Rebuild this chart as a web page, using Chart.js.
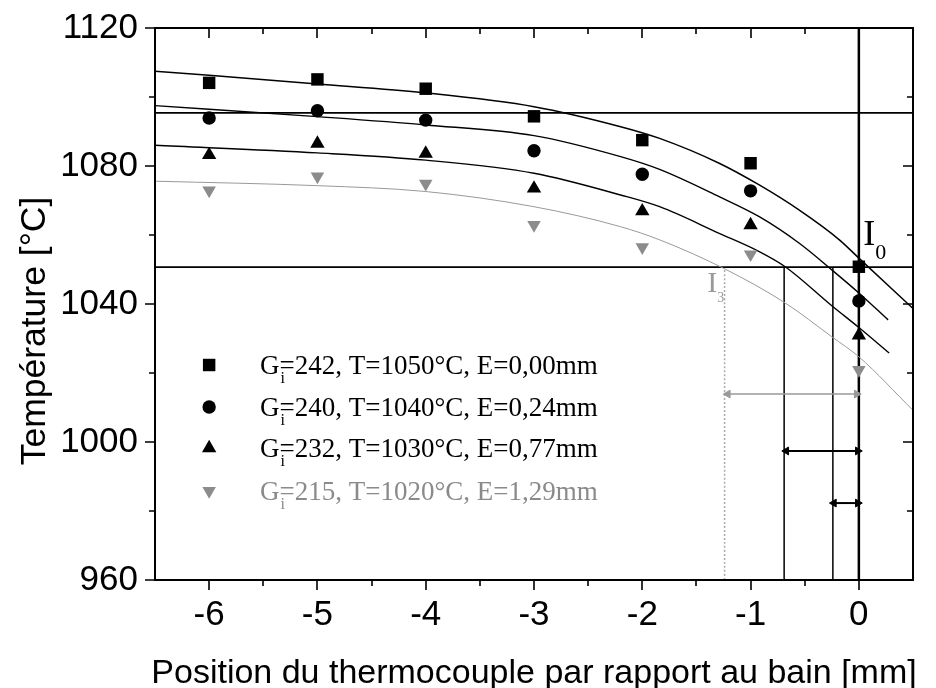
<!DOCTYPE html>
<html><head><meta charset="utf-8">
<script src="https://cdn.jsdelivr.net/npm/chart.js@4/dist/chart.umd.min.js"></script>
<style>html,body{margin:0;padding:0;background:#fff}#wrap{width:936px;height:688px}</style>
</head><body><div id="wrap"><canvas id="c" width="936" height="688"></canvas></div>
<script>
// ---------- data ----------
const positions = [-6, -5, -4, -3, -2, -1, 0];
const tempSquare   = [1104.1, 1105.1, 1102.4, 1094.4, 1087.5, 1080.8, 1050.8];
const tempCircle   = [1093.9, 1096.0, 1093.3, 1084.4, 1077.6, 1072.8, 1040.9];
const tempTriangle = [1083.2, 1086.5, 1083.6, 1073.5, 1066.9, 1062.9, 1030.9];
const tempInvTri   = [1072.9, 1077.0, 1074.9, 1062.9, 1056.5, 1054.4, 1020.9];

const fit1X = [-6.5, -5, -4, -3, -2.2, -1.84, -1.29, -0.92, -0.55, -0.18, 0, 0.5];
const fit1Y = [1107.5, 1103.8, 1101.2, 1097.2, 1091.4, 1088, 1080.8, 1074.5, 1067.2, 1058.6, 1053.3, 1038.7];
const fit2X = [-6.5, -5, -4, -3, -2.2, -1.84, -1.29, -0.92, -0.55, -0.25, 0, 0.27];
const fit2Y = [1097.5, 1094.3, 1091.9, 1088.8, 1082.7, 1079, 1071.1, 1065.3, 1057.6, 1049.9, 1043.2, 1035.4];
const fit3X = [-6.5, -5, -4, -3, -2.2, -1.84, -1.29, -0.92, -0.68, -0.25, 0, 0.28];
const fit3Y = [1086, 1083.8, 1081.7, 1077.9, 1071.6, 1068.2, 1060.5, 1055.2, 1050.8, 1039.5, 1033.2, 1025.8];
const fit4X = [-6.5, -5, -4, -3, -2.2, -1.84, -1.24, -0.68, -0.25, 0, 0.5];
const fit4Y = [1075.6, 1074.3, 1072.6, 1068.2, 1062.4, 1058.6, 1050.2, 1040.3, 1030.5, 1024.7, 1009.2];

const hLineHigh = 1095.4;
const hLineLow = 1050.7;
const vLineBain = 0;
const vLinesBlack = [-0.69, -0.24];
const vLineGray = -1.24;
const arrowGray = {y: 1013.9, from: -1.21, to: -0.02};
const arrowBlack1 = {y: 997.4, from: -0.67, to: -0.01};
const arrowBlack2 = {y: 982.3, from: -0.23, to: -0.01};

const xMin = -6.5, xMax = 0.5, yMin = 960, yMax = 1120;
const xTickValues = [-6, -5, -4, -3, -2, -1, 0];
const xMinorValues = [-5.5, -4.5, -3.5, -2.5, -1.5, -0.5];
const yTickValues = [960, 1000, 1040, 1080, 1120];
const yMinorValues = [980, 1020, 1060, 1100];

const legendLabels = [
  {sub: 'i', text: '=242, T=1050°C, E=0,00mm'},
  {sub: 'i', text: '=240, T=1040°C, E=0,24mm'},
  {sub: 'i', text: '=232, T=1030°C, E=0,77mm'},
  {sub: 'i', text: '=215, T=1020°C, E=1,29mm'}
];
const xTitle = 'Position du thermocouple par rapport au bain [mm]';
const yTitle = 'Température [°C]';

// ---------- helpers ----------
const pts = (xs, ys) => xs.map((x, i) => ({x, y: ys[i]}));
const GRAY = '#8c8c8c';
const markerStyles = [
  {pointStyle: 'rect', radius: 8.8, rotation: 0, color: '#000'},
  {pointStyle: 'circle', radius: 6.7, rotation: 0, color: '#000'},
  {pointStyle: 'triangle', radius: 8.3, rotation: 0, color: '#000'},
  {pointStyle: 'triangle', radius: 7.8, rotation: 180, color: GRAY}
];
const seriesVals = [tempSquare, tempCircle, tempTriangle, tempInvTri];

const datasets = [];
seriesVals.forEach((vals, i) => {
  const m = markerStyles[i];
  datasets.push({
    data: pts(positions, vals), showLine: false,
    pointStyle: m.pointStyle, pointRadius: m.radius, pointRotation: m.rotation,
    pointBackgroundColor: m.color, pointBorderColor: m.color, pointBorderWidth: 0
  });
});
function arrowDs(a, color, w) {
  return {data: [{x: a.from, y: a.y}, {x: a.to, y: a.y}], showLine: true, borderColor: color, borderWidth: w,
    pointStyle: 'triangle', pointRadius: 4.5, pointRotation: [-90, 90],
    pointBackgroundColor: color, pointBorderColor: color, pointBorderWidth: 1};
}
datasets.push(arrowDs(arrowGray, '#999', 1.5));
datasets.push(arrowDs(arrowBlack1, '#000', 2));
datasets.push(arrowDs(arrowBlack2, '#000', 2));
function lineDs(data, color, w, extra) {
  return Object.assign({data, showLine: true, borderColor: color, borderWidth: w, pointRadius: 0, fill: false}, extra || {});
}
datasets.push(lineDs(pts(fit1X, fit1Y), '#000', 1.5, {cubicInterpolationMode: 'monotone'}));
datasets.push(lineDs(pts(fit2X, fit2Y), '#000', 1.4, {cubicInterpolationMode: 'monotone'}));
datasets.push(lineDs(pts(fit3X, fit3Y), '#000', 1.4, {cubicInterpolationMode: 'monotone'}));
datasets.push(lineDs(pts(fit4X, fit4Y), '#999', 1, {cubicInterpolationMode: 'monotone'}));
datasets.push(lineDs([{x: xMin, y: hLineHigh}, {x: xMax, y: hLineHigh}], '#000', 1.8));
datasets.push(lineDs([{x: xMin, y: hLineLow}, {x: xMax, y: hLineLow}], '#000', 1.8));
datasets.push(lineDs([{x: vLineBain, y: yMin}, {x: vLineBain, y: yMax}], '#000', 2.5));
vLinesBlack.forEach(v => datasets.push(lineDs([{x: v, y: yMin}, {x: v, y: hLineLow}], '#000', 1.5)));
datasets.push(lineDs([{x: vLineGray, y: yMin}, {x: vLineGray, y: hLineLow}], '#aaa', 1.5, {borderDash: [2, 2]}));

// ---------- decoration plugin ----------
const decor = {
  id: 'decor',
  afterDatasetsDraw(chart) {
    const {ctx, chartArea: a, scales: {x, y}} = chart;
    ctx.save();
    ctx.strokeStyle = '#000';
    ctx.lineWidth = 2;
    ctx.strokeRect(a.left, a.top, a.right - a.left, a.bottom - a.top);
    ctx.lineWidth = 1.6;
    ctx.beginPath();
    const tickX = (vals, len) => vals.forEach(v => {
      const px = Math.round(x.getPixelForValue(v));
      ctx.moveTo(px, a.bottom); ctx.lineTo(px, a.bottom + len);
      ctx.moveTo(px, a.top); ctx.lineTo(px, a.top + len);
    });
    const tickY = (vals, len) => vals.forEach(v => {
      const py = Math.round(y.getPixelForValue(v));
      ctx.moveTo(a.left, py); ctx.lineTo(a.left - len, py);
      ctx.moveTo(a.right, py); ctx.lineTo(a.right - len, py);
    });
    tickX(xTickValues, 10); tickX(xMinorValues, 6);
    tickY(yTickValues, 10); tickY(yMinorValues, 6);
    ctx.stroke();
    ctx.restore();
  },
  afterDraw(chart) {
    const {ctx, chartArea: a, scales: {x, y}} = chart;
    ctx.save();
    // legend
    const lx = x.getPixelForValue(-6);
    const rowY = [365, 407, 448, 491];
    legendLabels.forEach((lab, i) => {
      const m = markerStyles[i];
      const yy = rowY[i];
      ctx.fillStyle = m.color; ctx.strokeStyle = m.color;
      Chart.helpers.drawPoint(ctx, {pointStyle: m.pointStyle, radius: m.radius, rotation: m.rotation, borderWidth: 0}, lx, yy);
      ctx.fillStyle = i === 3 ? '#8a8a8a' : '#000';
      ctx.textBaseline = 'alphabetic';
      ctx.textAlign = 'left';
      ctx.font = '27px "Liberation Serif"';
      const tx = 260, base = yy + 9;
      ctx.fillText('G', tx, base);
      const gw = ctx.measureText('G').width;
      ctx.fillText(lab.text, tx + gw, base);
      ctx.font = '16px "Liberation Serif"';
      ctx.fillText(lab.sub, tx + gw + 1, base + 9);
    });
    // I0 label
    ctx.fillStyle = '#000';
    ctx.font = '36px "Liberation Serif"';
    const ix = x.getPixelForValue(0.04), iy = y.getPixelForValue(1057);
    ctx.fillText('I', ix, iy);
    ctx.font = '22px "Liberation Serif"';
    ctx.fillText('0', ix + 12, iy + 14);
    // I3 label (gray)
    ctx.fillStyle = '#9a9a9a';
    ctx.font = '30px "Liberation Serif"';
    const jx = x.getPixelForValue(-1.4), jy = y.getPixelForValue(1043.5);
    ctx.fillText('I', jx, jy);
    ctx.font = '14px "Liberation Serif"';
    ctx.fillText('3', jx + 10, jy + 10);
    // axis titles
    ctx.fillStyle = '#000';
    ctx.font = '34px "Liberation Sans"';
    ctx.textAlign = 'center';
    ctx.textBaseline = 'alphabetic';
    ctx.fillText(xTitle, (a.left + a.right) / 2, 683);
    ctx.save();
    ctx.font = '35.5px "Liberation Sans"';
    ctx.translate(45, 331);
    ctx.rotate(-Math.PI / 2);
    ctx.fillText(yTitle, 0, 0);
    ctx.restore();
    ctx.restore();
  }
};

new Chart(document.getElementById('c'), {
  type: 'scatter',
  data: {datasets},
  plugins: [decor],
  options: {
    responsive: false, animation: false, devicePixelRatio: 1,
    layout: {padding: {left: 0, right: 23, top: 28, bottom: 0}},
    plugins: {legend: {display: false}, tooltip: {enabled: false}},
    elements: {line: {tension: 0.4}},
    scales: {
      x: {
        type: 'linear', min: xMin, max: xMax,
        afterBuildTicks: s => { s.ticks = xTickValues.map(v => ({value: v})); },
        afterFit: s => { s.height = 108; s.paddingLeft = 0; s.paddingRight = 0; },
        grid: {display: false, drawTicks: false}, border: {display: false},
        ticks: {padding: 14, color: '#000', font: {family: 'Liberation Sans', size: 35}, maxRotation: 0, autoSkip: false,
          callback: v => String(v)}
      },
      y: {
        type: 'linear', min: yMin, max: yMax,
        afterBuildTicks: s => { s.ticks = yTickValues.map(v => ({value: v})); },
        afterFit: s => { s.width = 155; s.paddingTop = 0; s.paddingBottom = 0; },
        grid: {display: false, drawTicks: false}, border: {display: false},
        ticks: {padding: 17, color: '#000', font: {family: 'Liberation Sans', size: 35}, autoSkip: false,
          callback: v => String(v)}
      }
    }
  }
});
</script>
</body></html>
